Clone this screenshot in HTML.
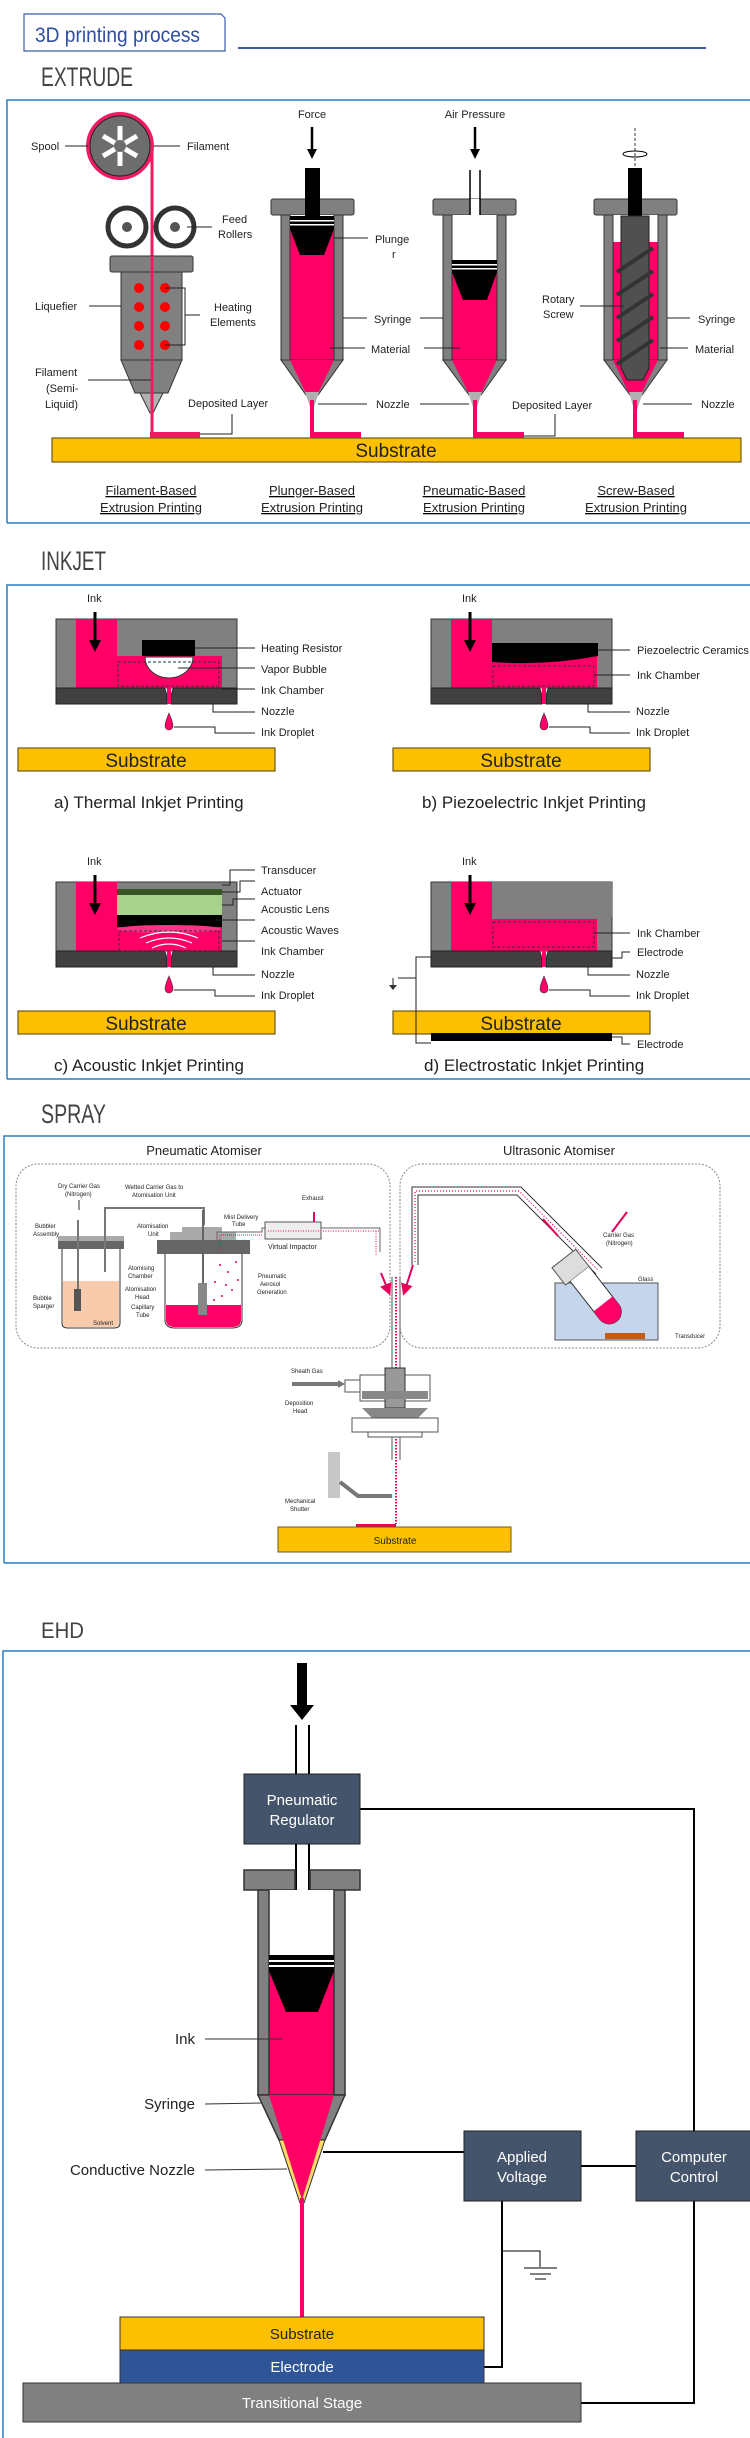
<!DOCTYPE html>
<html><head><meta charset="utf-8"><style>
html,body{margin:0;padding:0;background:#fff;}
svg{display:block;}
text{font-family:"Liberation Sans Narrow","Liberation Sans",sans-serif;fill:#222;}
.l{font-size:11px;}
.s{font-size:6px;}
.ld{stroke:#222;stroke-width:1;fill:none;}
.h{font-size:27px;fill:#444;}
.cap{font-size:13px;text-decoration:underline;}
.ehd{font-family:"Liberation Sans",sans-serif;font-size:15px;}
</style></head><body>
<svg width="750" height="2438" viewBox="0 0 750 2438" xmlns="http://www.w3.org/2000/svg">
<defs>
<marker id="ah" markerWidth="6" markerHeight="6" refX="3" refY="3" orient="auto"><path d="M0,0 L6,3 L0,6Z" fill="#e8005a"/></marker>
</defs>
<!-- header -->
<path d="M24 14 H221 L225 18 V51 H24 Z" fill="#fff" stroke="#3b5da6" stroke-width="1.2"/>
<text x="35" y="42" style="font-size:21px;fill:#2f4f9e" textLength="165" lengthAdjust="spacingAndGlyphs">3D printing process</text>
<line x1="238" y1="48" x2="706" y2="48" stroke="#3b5da6" stroke-width="2"/>

<!-- ============ EXTRUDE ============ -->
<text class="h" x="41" y="86" textLength="92" lengthAdjust="spacingAndGlyphs">EXTRUDE</text>
<path d="M7 523 V100 H750" fill="none" stroke="#2a7fc0" stroke-width="1.5"/>
<line x1="7" y1="523" x2="750" y2="523" stroke="#2a7fc0" stroke-width="1.5"/>

<!-- filament extruder -->
<circle cx="120" cy="146" r="34" fill="#ef1c63"/>
<circle cx="120" cy="146" r="30" fill="#6d6d6d" stroke="#222"/>
<g stroke="#fff" stroke-width="5"><line x1="120" y1="126" x2="120" y2="166"/><line x1="103" y1="136" x2="137" y2="156"/><line x1="103" y1="156" x2="137" y2="136"/></g>
<circle cx="120" cy="146" r="6" fill="#6d6d6d"/>
<line x1="152" y1="146" x2="152" y2="436" stroke="#ef1c63" stroke-width="3"/>
<circle cx="127" cy="227" r="19" fill="#fff" stroke="#333" stroke-width="5"/><circle cx="127" cy="227" r="5" fill="#555"/>
<circle cx="175" cy="227" r="19" fill="#fff" stroke="#333" stroke-width="5"/><circle cx="175" cy="227" r="5" fill="#555"/>
<rect x="110" y="256" width="83" height="16" rx="2" fill="#808080" stroke="#333"/>
<rect x="121" y="272" width="61" height="88" fill="#808080" stroke="#333"/>
<polygon points="121,360 182,360 168,393 135,393" fill="#808080" stroke="#333"/>
<polygon points="140,393 163,393 153,413 150,413" fill="#b0b0b0" stroke="#333"/>
<line x1="152" y1="256" x2="152" y2="436" stroke="#ef1c63" stroke-width="3"/>
<g fill="#f00"><circle cx="139" cy="288" r="5"/><circle cx="165" cy="288" r="5"/><circle cx="139" cy="307" r="5"/><circle cx="165" cy="307" r="5"/><circle cx="139" cy="326" r="5"/><circle cx="165" cy="326" r="5"/><circle cx="139" cy="345" r="5"/><circle cx="165" cy="345" r="5"/></g>
<rect x="150" y="432" width="50" height="6" fill="#ef1c63"/>
<g class="ld"><line x1="65" y1="146" x2="88" y2="146"/><line x1="154" y1="146" x2="180" y2="146"/><line x1="187" y1="227" x2="212" y2="227"/><line x1="89" y1="306" x2="121" y2="306"/><polyline points="165,288 185,288 185,345 165,345"/><line x1="185" y1="315" x2="200" y2="315"/><line x1="88" y1="380" x2="151" y2="380"/><polyline points="200,434 232,434 232,414"/></g>
<g class="l"><text x="31" y="150">Spool</text><text x="187" y="150">Filament</text><text x="222" y="223">Feed</text><text x="218" y="238">Rollers</text><text x="35" y="310">Liquefier</text><text x="214" y="311">Heating</text><text x="210" y="326">Elements</text><text x="35" y="376">Filament</text><text x="46" y="392">(Semi-</text><text x="45" y="408">Liquid)</text><text x="188" y="407">Deposited Layer</text></g>

<!-- plunger -->
<text class="l" x="312" y="118" text-anchor="middle">Force</text>
<line x1="312" y1="127" x2="312" y2="150" stroke="#000" stroke-width="2.5"/><polygon points="307,149 317,149 312,159" fill="#000"/>
<rect x="271" y="199" width="83" height="16" rx="2" fill="#808080" stroke="#333"/>
<rect x="290" y="215" width="44" height="145" fill="#fff"/>
<rect x="290" y="228" width="44" height="132" fill="#ff0066"/>
<rect x="281" y="215" width="9" height="145" fill="#808080" stroke="#333"/><rect x="334" y="215" width="9" height="145" fill="#808080" stroke="#333"/>
<polygon points="281,360 343,360 318,395 306,395" fill="#808080" stroke="#333"/>
<polygon points="290,360 334,360 312,406" fill="#ff0066"/>
<polygon points="305,392 319,392 313,410 311,410" fill="#b0b0b0"/>
<line x1="312" y1="400" x2="312" y2="436" stroke="#ff0066" stroke-width="4"/><rect x="310" y="432" width="51" height="6" fill="#ff0066"/>
<rect x="305" y="168" width="15" height="48" fill="#000"/>
<rect x="290" y="216" width="44" height="13" fill="#000"/><rect x="290" y="220" width="44" height="1.5" fill="#fff"/><rect x="290" y="224" width="44" height="1.5" fill="#fff"/>
<polygon points="290,229 334,229 324,255 300,255" fill="#000"/>
<g class="ld"><line x1="334" y1="238" x2="368" y2="238"/><line x1="343" y1="318" x2="367" y2="318"/><line x1="330" y1="348" x2="365" y2="348"/><line x1="318" y1="404" x2="367" y2="404"/></g>
<g class="l"><text x="375" y="243">Plunge</text><text x="392" y="258">r</text><text x="374" y="323">Syringe</text><text x="371" y="353">Material</text><text x="376" y="408">Nozzle</text></g>

<!-- pneumatic -->
<text class="l" x="475" y="118" text-anchor="middle">Air Pressure</text>
<line x1="475" y1="127" x2="475" y2="150" stroke="#000" stroke-width="2.5"/><polygon points="470,149 480,149 475,159" fill="#000"/>
<rect x="433" y="199" width="83" height="16" rx="2" fill="#808080" stroke="#333"/>
<rect x="470" y="199" width="10" height="16" fill="#fff"/>
<line x1="470" y1="170" x2="470" y2="215" stroke="#000" stroke-width="1.5"/><line x1="480" y1="170" x2="480" y2="215" stroke="#000" stroke-width="1.5"/>
<rect x="452" y="215" width="45" height="145" fill="#fff"/>
<rect x="452" y="270" width="45" height="90" fill="#ff0066"/>
<rect x="443" y="215" width="9" height="145" fill="#808080" stroke="#333"/><rect x="497" y="215" width="9" height="145" fill="#808080" stroke="#333"/>
<polygon points="443,360 506,360 481,395 469,395" fill="#808080" stroke="#333"/>
<polygon points="452,360 497,360 475,406" fill="#ff0066"/>
<polygon points="468,392 482,392 476,410 474,410" fill="#b0b0b0"/>
<line x1="475" y1="400" x2="475" y2="436" stroke="#ff0066" stroke-width="4"/><rect x="473" y="432" width="51" height="6" fill="#ff0066"/>
<rect x="452" y="260" width="45" height="12" fill="#000"/><rect x="452" y="264" width="45" height="1.5" fill="#fff"/><rect x="452" y="268" width="45" height="1.5" fill="#fff"/>
<polygon points="452,272 497,272 487,300 463,300" fill="#000"/>
<g class="ld"><line x1="420" y1="318" x2="443" y2="318"/><line x1="424" y1="348" x2="460" y2="348"/><line x1="420" y1="404" x2="469" y2="404"/><polyline points="524,436 555,436 555,414"/></g>
<text class="l" x="512" y="409">Deposited Layer</text>

<!-- screw -->
<line x1="635" y1="128" x2="635" y2="170" stroke="#333" stroke-dasharray="3,2"/>
<ellipse cx="635" cy="154" rx="12" ry="3" fill="none" stroke="#000"/>
<rect x="594" y="199" width="83" height="16" rx="2" fill="#808080" stroke="#333"/>
<rect x="613" y="215" width="45" height="145" fill="#fff"/>
<rect x="613" y="242" width="45" height="118" fill="#ff0066"/>
<rect x="604" y="215" width="9" height="145" fill="#808080" stroke="#333"/><rect x="658" y="215" width="9" height="145" fill="#808080" stroke="#333"/>
<polygon points="604,360 667,360 642,395 630,395" fill="#808080" stroke="#333"/>
<polygon points="613,360 658,360 635,406" fill="#ff0066"/>
<polygon points="629,392 643,392 637,410 634,410" fill="#b0b0b0"/>
<line x1="635" y1="400" x2="635" y2="436" stroke="#ff0066" stroke-width="4"/><rect x="633" y="432" width="51" height="6" fill="#ff0066"/>
<rect x="628" y="168" width="14" height="48" fill="#000"/>
<polygon points="621,216 649,216 649,368 643,380 627,380 621,368" fill="#505050" stroke="#222"/>
<g fill="none" stroke="#333" stroke-width="4"><line x1="617" y1="272" x2="653" y2="248"/><line x1="617" y1="295" x2="653" y2="271"/><line x1="617" y1="318" x2="653" y2="294"/><line x1="617" y1="341" x2="653" y2="317"/><line x1="617" y1="364" x2="653" y2="340"/></g>
<g class="ld"><line x1="580" y1="306" x2="624" y2="306"/><line x1="667" y1="318" x2="690" y2="318"/><line x1="660" y1="348" x2="688" y2="348"/><line x1="643" y1="404" x2="692" y2="404"/></g>
<g class="l"><text x="542" y="303">Rotary</text><text x="543" y="318">Screw</text><text x="698" y="323">Syringe</text><text x="695" y="353">Material</text><text x="701" y="408">Nozzle</text></g>

<rect x="52" y="438" width="689" height="24" fill="#fcc000" stroke="#6b5a1e" stroke-width="1.2"/>
<text x="396" y="457" text-anchor="middle" style="font-size:19px;fill:#222">Substrate</text>
<g class="cap" text-anchor="middle"><text x="151" y="495">Filament-Based</text><text x="151" y="512">Extrusion Printing</text><text x="312" y="495">Plunger-Based</text><text x="312" y="512">Extrusion Printing</text><text x="474" y="495">Pneumatic-Based</text><text x="474" y="512">Extrusion Printing</text><text x="636" y="495">Screw-Based</text><text x="636" y="512">Extrusion Printing</text></g>

<!-- ============ INKJET ============ -->
<text class="h" x="41" y="570" textLength="65" lengthAdjust="spacingAndGlyphs">INKJET</text>
<path d="M7 1079 V585 H750" fill="none" stroke="#2a7fc0" stroke-width="1.5"/>
<line x1="7" y1="1079" x2="750" y2="1079" stroke="#2a7fc0" stroke-width="1.5"/>

<!-- common head template drawn 4 times -->
<g id="pa">
<rect x="56" y="619" width="181" height="69" fill="#808080" stroke="#333"/>
<rect x="76" y="619" width="41" height="69" fill="#ff0066"/>
<rect x="117" y="656" width="105" height="32" fill="#ff0066"/>
<path d="M56 688 H164 Q167 690 167 704 H56Z" fill="#404040" stroke="#222"/>
<path d="M237 688 H174 Q171 690 171 704 H237Z" fill="#404040" stroke="#222"/>
<rect x="167" y="688" width="4" height="16" fill="#ff0066"/>
<line x1="95" y1="612" x2="95" y2="642" stroke="#000" stroke-width="3"/><polygon points="89,640 101,640 95,652" fill="#000"/>
<path d="M169 713 Q173 722 173 726 A4 4 0 0 1 165 726 Q165 722 169 713Z" fill="#ff0066" stroke="#333" stroke-width="0.6"/>
<rect x="18" y="748" width="257" height="23" fill="#fcc000" stroke="#6b5a1e" stroke-width="1.2"/>
<text x="146" y="767" text-anchor="middle" style="font-size:19px">Substrate</text>
<text class="l" x="87" y="602">Ink</text>
<g class="ld"><polyline points="213,704 213,712 255,712"/><polyline points="174,727 215,727 215,733 255,733"/></g>
<g class="l"><text x="261" y="715">Nozzle</text><text x="261" y="736">Ink Droplet</text></g>
</g>
<!-- a details -->
<rect x="142" y="640" width="53" height="16" fill="#000"/>
<path d="M145 657 A24 21 0 0 0 193 657Z" fill="#fff" stroke="#333"/>
<rect x="118" y="662" width="101" height="24" fill="none" stroke="#333" stroke-dasharray="3,2"/>
<g class="ld"><line x1="195" y1="648" x2="255" y2="648"/><line x1="178" y1="668" x2="255" y2="668"/><line x1="222" y1="689" x2="255" y2="689"/></g>
<g class="l"><text x="261" y="652">Heating Resistor</text><text x="261" y="673">Vapor Bubble</text><text x="261" y="694">Ink Chamber</text></g>
<text x="54" y="808" style="font-size:17px">a) Thermal Inkjet Printing</text>

<use href="#pa" transform="translate(375,0)"/>
<path d="M492 643 L598 643 L598 656 Q545 666 492 662 Z" fill="#000"/>
<rect x="493" y="666" width="101" height="20" fill="none" stroke="#333" stroke-dasharray="3,2"/>
<g class="ld"><line x1="598" y1="650" x2="630" y2="650"/><line x1="594" y1="675" x2="630" y2="675"/></g>
<g class="l"><text x="637" y="654">Piezoelectric Ceramics</text><text x="637" y="679">Ink Chamber</text></g>
<text x="422" y="808" style="font-size:17px">b) Piezoelectric Inkjet Printing</text>

<use href="#pa" transform="translate(0,263)"/>
<rect x="117" y="889" width="105" height="6" fill="#375623"/>
<rect x="117" y="895" width="105" height="20" fill="#a9d18e"/>
<rect x="117" y="915" width="105" height="12" fill="#000"/>
<ellipse cx="169" cy="929" rx="52" ry="4" fill="#ff3388"/>
<rect x="119" y="931" width="100" height="20" fill="none" stroke="#333" stroke-dasharray="3,2"/>
<g fill="none" stroke="#fff" stroke-width="1.2"><path d="M140 938 Q169 926 198 938"/><path d="M146 943 Q169 933 192 943"/><path d="M152 948 Q169 940 186 948"/></g>
<g class="ld"><polyline points="222,885 230,885 230,870 255,870"/><polyline points="222,892 240,892 240,881 255,881"/><polyline points="222,905 233,905 233,899 255,899"/><line x1="215" y1="920" x2="255" y2="920"/><line x1="222" y1="941" x2="255" y2="941"/></g>
<g class="l"><text x="261" y="874">Transducer</text><text x="261" y="895">Actuator</text><text x="261" y="913">Acoustic Lens</text><text x="261" y="934">Acoustic Waves</text><text x="261" y="955">Ink Chamber</text></g>
<text x="54" y="1071" style="font-size:17px">c) Acoustic Inkjet Printing</text>

<use href="#pa" transform="translate(375,263)"/>
<rect x="492" y="882" width="120" height="35" fill="#808080"/>
<rect x="493" y="922" width="101" height="25" fill="none" stroke="#333" stroke-dasharray="3,2"/>
<rect x="431" y="1033" width="181" height="8" fill="#000"/>
<g class="ld"><line x1="594" y1="933" x2="630" y2="933"/><polyline points="612,958 622,958 622,952 630,952"/><polyline points="431,957 416,957 416,1043 431,1043"/><line x1="416" y1="978" x2="398" y2="978"/><line x1="393" y1="978" x2="393" y2="986"/><polyline points="612,1037 622,1037 622,1044 630,1044"/></g>
<polygon points="389,985 397,985 393,990" fill="#333"/>
<g class="l"><text x="637" y="937">Ink Chamber</text><text x="637" y="956">Electrode</text><text x="637" y="1048">Electrode</text></g>
<text x="424" y="1071" style="font-size:17px">d) Electrostatic Inkjet Printing</text>

<!-- ============ SPRAY ============ -->
<text class="h" x="41" y="1123" textLength="65" lengthAdjust="spacingAndGlyphs">SPRAY</text>
<path d="M4 1563 V1136 H750" fill="none" stroke="#2a7fc0" stroke-width="1.5"/>
<line x1="4" y1="1563" x2="750" y2="1563" stroke="#2a7fc0" stroke-width="1.5"/>
<text x="204" y="1155" text-anchor="middle" style="font-size:13px">Pneumatic Atomiser</text>
<text x="559" y="1155" text-anchor="middle" style="font-size:13px">Ultrasonic Atomiser</text>
<rect x="16" y="1164" width="374" height="184" rx="22" fill="none" stroke="#888" stroke-dasharray="2,1.5"/>
<rect x="400" y="1164" width="320" height="184" rx="22" fill="none" stroke="#888" stroke-dasharray="2,1.5"/>
<!-- solvent jar -->
<rect x="58" y="1241" width="66" height="8" fill="#666"/><rect x="58" y="1236" width="66" height="5" fill="#aaa"/>
<path d="M62 1249 V1323 Q62 1328 68 1328 H114 Q120 1328 120 1323 V1249" fill="#fff" stroke="#333"/>
<path d="M63 1281 H119 V1323 Q119 1327 114 1327 H68 Q63 1327 63 1323Z" fill="#f8cbad"/>
<line x1="78" y1="1220" x2="78" y2="1302" stroke="#777" stroke-width="2"/><rect x="74" y="1289" width="7" height="22" fill="#555"/>
<line x1="105" y1="1225" x2="105" y2="1272" stroke="#777" stroke-width="2"/>
<path d="M105 1225 V1208 H204 V1225" fill="none" stroke="#777" stroke-width="2"/>
<line x1="79" y1="1210" x2="79" y2="1200" stroke="#333"/>
<!-- ink jar -->
<rect x="157" y="1240" width="93" height="14" fill="#666"/><rect x="170" y="1232" width="66" height="8" fill="#aaa"/><rect x="182" y="1227" width="40" height="6" fill="#aaa"/>
<path d="M165 1254 V1320 Q165 1328 175 1328 H232 Q242 1328 242 1320 V1254" fill="#fff" stroke="#333"/>
<path d="M166 1305 H241 V1320 Q241 1327 232 1327 H175 Q166 1327 166 1320Z" fill="#ff0066"/>
<rect x="198" y="1283" width="9" height="32" fill="#888"/><line x1="203" y1="1210" x2="203" y2="1283" stroke="#666" stroke-width="2"/>
<g fill="#e8005a"><circle cx="220" cy="1265" r="1"/><circle cx="228" cy="1272" r="1"/><circle cx="215" cy="1282" r="1"/><circle cx="232" cy="1290" r="1"/><circle cx="222" cy="1296" r="1"/><circle cx="236" cy="1262" r="1"/><circle cx="226" cy="1285" r="1"/><circle cx="214" cy="1300" r="1"/><circle cx="238" cy="1280" r="1"/></g>
<path d="M217 1250 V1232 H262 V1228 H380 V1252" fill="none" stroke="#666" stroke-width="1"/>
<path d="M220 1250 V1235 H262" fill="none" stroke="#e8005a" stroke-width="1" stroke-dasharray="1,1"/>
<rect x="265" y="1222" width="56" height="17" fill="#eee" stroke="#555"/>
<line x1="314" y1="1212" x2="314" y2="1222" stroke="#e8005a" stroke-width="2"/>
<line x1="268" y1="1231" x2="380" y2="1231" stroke="#e8005a" stroke-dasharray="1,1.5"/>
<line x1="376" y1="1231" x2="376" y2="1256" stroke="#e8005a" stroke-dasharray="1,1.5"/>
<line x1="381" y1="1273" x2="388" y2="1290" stroke="#e8005a" stroke-width="2" marker-end="url(#ah)"/>
<line x1="413" y1="1265" x2="405" y2="1290" stroke="#e8005a" stroke-width="2" marker-end="url(#ah)"/>
<g class="s"><text x="58" y="1188">Dry Carrier Gas</text><text x="65" y="1196">(Nitrogen)</text><text x="125" y="1189">Wetted Carrier Gas to</text><text x="132" y="1197">Atomisation Unit</text><text x="35" y="1228">Bubbler</text><text x="33" y="1236">Assembly</text><text x="137" y="1228">Atomisation</text><text x="148" y="1236">Unit</text><text x="224" y="1219">Mist Delivery</text><text x="232" y="1226">Tube</text><text x="302" y="1200">Exhaust</text><text x="268" y="1249" style="font-size:7px">Virtual Impactor</text><text x="128" y="1270">Atomising</text><text x="128" y="1278">Chamber</text><text x="125" y="1291">Atomisation</text><text x="135" y="1299">Head</text><text x="131" y="1309">Capillary</text><text x="136" y="1317">Tube</text><text x="33" y="1300">Bubble</text><text x="33" y="1308">Sparger</text><text x="93" y="1325">Solvent</text><text x="258" y="1278">Pneumatic</text><text x="260" y="1286">Aerosol</text><text x="257" y="1294">Generation</text><text x="603" y="1237">Carrier Gas</text><text x="606" y="1245">(Nitrogen)</text><text x="638" y="1281">Glass</text><text x="640" y="1289">Vial</text><text x="567" y="1320">Water</text><text x="675" y="1338">Transducer</text><text x="291" y="1373">Sheath Gas</text><text x="285" y="1405">Deposition</text><text x="293" y="1413">Head</text><text x="285" y="1503">Mechanical</text><text x="290" y="1511">Shutter</text></g>
<!-- ultrasonic -->
<path d="M412 1265 V1187 H521 L602 1268" fill="none" stroke="#333" stroke-width="1"/>
<path d="M418 1265 V1195 H517 L596 1274" fill="none" stroke="#333" stroke-width="1"/>
<path d="M415 1262 V1191 H519 L598 1270" fill="none" stroke="#e8005a" stroke-width="1.2" stroke-dasharray="1,2"/>
<line x1="543" y1="1219" x2="558" y2="1236" stroke="#e8005a" stroke-width="2"/>
<rect x="555" y="1283" width="103" height="57" fill="#c5d5ec" stroke="#555"/>
<rect x="605" y="1333" width="40" height="6" fill="#c55a11"/>
<g transform="rotate(-38 600 1300)"><rect x="582" y="1245" width="30" height="22" fill="#ddd" stroke="#555"/><path d="M588 1267 V1315 A12 12 0 0 0 612 1315 V1267" fill="#fff" stroke="#333"/><path d="M588 1305 V1315 A12 12 0 0 0 612 1315 V1305Z" fill="#ff0066"/></g>
<line x1="627" y1="1212" x2="612" y2="1232" stroke="#e8005a" stroke-width="2"/>
<!-- central tube & head -->
<line x1="392" y1="1277" x2="392" y2="1460" stroke="#555"/><line x1="400" y1="1277" x2="400" y2="1460" stroke="#555"/>
<line x1="396" y1="1277" x2="396" y2="1524" stroke="#e8005a" stroke-width="2" stroke-dasharray="1.5,1.5"/>
<rect x="360" y="1375" width="70" height="26" fill="#fff" stroke="#555"/><rect x="345" y="1380" width="15" height="12" fill="#fff" stroke="#555"/>
<rect x="385" y="1368" width="20" height="40" fill="#999" stroke="#333"/>
<rect x="362" y="1391" width="66" height="8" fill="#888"/>
<polygon points="362,1408 428,1408 418,1418 372,1418" fill="#888"/>
<rect x="352" y="1418" width="86" height="14" fill="#fff" stroke="#555"/>
<rect x="368" y="1432" width="54" height="5" fill="#fff" stroke="#555"/>
<line x1="292" y1="1384" x2="340" y2="1384" stroke="#777" stroke-width="4"/><polygon points="338,1380 345,1384 338,1388" fill="#777"/>
<rect x="328" y="1452" width="12" height="46" fill="#c8c8c8"/>
<polyline points="340,1482 358,1496 392,1496" fill="none" stroke="#777" stroke-width="4"/>
<rect x="356" y="1524" width="40" height="3" fill="#e8005a"/>
<rect x="278" y="1527" width="233" height="25" fill="#fcc000" stroke="#6b5a1e"/>
<text x="395" y="1544" text-anchor="middle" style="font-size:10px">Substrate</text>

<!-- ============ EHD ============ -->
<text class="h" x="41" y="1638" style="font-size:22px" textLength="43" lengthAdjust="spacingAndGlyphs">EHD</text>
<path d="M3 2438 V1651 H750" fill="none" stroke="#2a7fc0" stroke-width="1.5"/>
<rect x="297" y="1663" width="10" height="45" fill="#000"/><polygon points="290,1705 314,1705 302,1720" fill="#000"/>
<line x1="296" y1="1725" x2="296" y2="1774" stroke="#000" stroke-width="2"/><line x1="309" y1="1725" x2="309" y2="1774" stroke="#000" stroke-width="2"/>
<g fill="none" stroke="#000" stroke-width="2"><polyline points="360,1809 694,1809 694,2131"/><line x1="581" y1="2166" x2="636" y2="2166"/><line x1="323" y1="2152" x2="464" y2="2152"/><polyline points="502,2201 502,2367 484,2367"/><polyline points="581,2403 694,2403 694,2201"/></g>
<polyline points="502,2251 540,2251 540,2267" fill="none" stroke="#000" stroke-width="1"/>
<g stroke="#000"><line x1="524" y1="2268" x2="557" y2="2268"/><line x1="530" y1="2274" x2="551" y2="2274"/><line x1="535" y1="2279" x2="546" y2="2279"/></g>
<rect x="244" y="1774" width="116" height="70" fill="#44546a" stroke="#222"/>
<text class="ehd" x="302" y="1805" text-anchor="middle" fill="#fff" style="fill:#fff">Pneumatic</text><text class="ehd" x="302" y="1825" text-anchor="middle" style="fill:#fff">Regulator</text>
<rect x="464" y="2131" width="117" height="70" fill="#44546a" stroke="#222"/>
<text class="ehd" x="522" y="2162" text-anchor="middle" style="fill:#fff">Applied</text><text class="ehd" x="522" y="2182" text-anchor="middle" style="fill:#fff">Voltage</text>
<rect x="636" y="2131" width="118" height="70" fill="#44546a" stroke="#222"/>
<text class="ehd" x="694" y="2162" text-anchor="middle" style="fill:#fff">Computer</text><text class="ehd" x="694" y="2182" text-anchor="middle" style="fill:#fff">Control</text>
<line x1="296" y1="1844" x2="296" y2="1890" stroke="#000" stroke-width="2"/><line x1="309" y1="1844" x2="309" y2="1890" stroke="#000" stroke-width="2"/>
<path d="M244 1870 H295 V1890 H244Z" fill="#808080" stroke="#333" stroke-width="1.5"/>
<path d="M310 1870 H360 V1890 H310Z" fill="#808080" stroke="#333" stroke-width="1.5"/>
<rect x="269" y="1890" width="65" height="205" fill="#fff"/>
<rect x="269" y="1971" width="65" height="124" fill="#ff0066"/>
<rect x="258" y="1890" width="11" height="205" fill="#808080" stroke="#333" stroke-width="1.5"/>
<rect x="334" y="1890" width="11" height="205" fill="#808080" stroke="#333" stroke-width="1.5"/>
<rect x="269" y="1955" width="65" height="16" fill="#000"/><rect x="269" y="1960" width="65" height="2" fill="#fff"/><rect x="269" y="1965" width="65" height="2" fill="#fff"/>
<polygon points="269,1971 334,1971 318,2012 286,2012" fill="#000"/>
<polygon points="258,2095 345,2095 325,2140 279,2140" fill="#808080" stroke="#333" stroke-width="1.5"/>
<polygon points="279,2140 325,2140 304,2203 300,2203" fill="#ffd966" stroke="#333"/>
<polygon points="269,2095 334,2095 302,2200" fill="#ff0066"/>
<line x1="302" y1="2198" x2="302" y2="2317" stroke="#ff0066" stroke-width="4"/>
<g stroke="#333"><line x1="205" y1="2039" x2="283" y2="2039"/><line x1="205" y1="2104" x2="262" y2="2103"/><line x1="205" y1="2170" x2="287" y2="2169"/></g>
<g class="ehd" text-anchor="end"><text x="195" y="2044">Ink</text><text x="195" y="2109">Syringe</text><text x="195" y="2175">Conductive Nozzle</text></g>
<rect x="120" y="2317" width="364" height="33" fill="#fcc000" stroke="#333"/>
<text class="ehd" x="302" y="2339" text-anchor="middle">Substrate</text>
<rect x="120" y="2350" width="364" height="33" fill="#2f5597" stroke="#333"/>
<text class="ehd" x="302" y="2372" text-anchor="middle" style="fill:#fff">Electrode</text>
<rect x="23" y="2383" width="558" height="39" fill="#808080" stroke="#333"/>
<text class="ehd" x="302" y="2408" text-anchor="middle" style="fill:#fff">Transitional Stage</text>
</svg>
</body></html>
